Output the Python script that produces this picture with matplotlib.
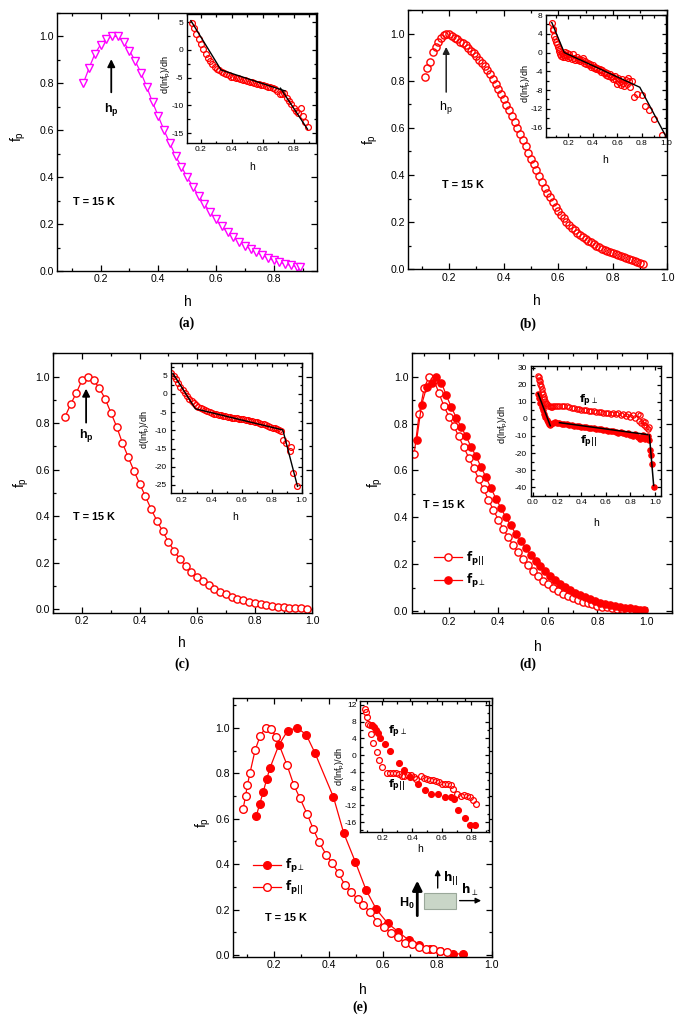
import matplotlib
matplotlib.use('Agg')
import matplotlib.pyplot as plt
from matplotlib.ticker import MultipleLocator, AutoMinorLocator, FormatStrFormatter
from matplotlib.patches import Rectangle
from matplotlib.font_manager import FontProperties

plt.rcParams['font.family'] = ['Liberation Sans', 'DejaVu Sans']
plt.rcParams['mathtext.fontset'] = 'custom'
plt.rcParams['mathtext.rm'] = 'Liberation Sans'
plt.rcParams['mathtext.it'] = 'Liberation Sans:italic'
plt.rcParams['mathtext.bf'] = 'Liberation Sans:bold'

RED = '#ff0000'
MAG = '#ff00ff'

# ---------------- panel (a) ----------------
h_a = [0.14, 0.16, 0.18, 0.20, 0.22, 0.24, 0.26, 0.28, 0.30, 0.32, 0.34, 0.36, 0.38, 0.40,
       0.42, 0.44, 0.46, 0.48, 0.50, 0.52, 0.54, 0.56, 0.58, 0.60, 0.62, 0.64, 0.66, 0.68,
       0.70, 0.72, 0.74, 0.76, 0.78, 0.80, 0.82, 0.84, 0.86, 0.88, 0.89]
f_a = [0.80, 0.865, 0.925, 0.965, 0.99, 1.0, 1.0, 0.975, 0.94, 0.895, 0.845, 0.785, 0.72, 0.66,
       0.60, 0.545, 0.49, 0.445, 0.40, 0.36, 0.32, 0.285, 0.25, 0.22, 0.19, 0.165, 0.145, 0.125,
       0.108, 0.093, 0.08, 0.067, 0.055, 0.045, 0.037, 0.03, 0.024, 0.019, 0.017]
hi_a = [0.140, 0.155, 0.170, 0.185, 0.200, 0.215, 0.230, 0.245, 0.260, 0.275, 0.290, 0.305,
        0.320, 0.335, 0.350, 0.365, 0.380, 0.395, 0.410, 0.425, 0.440, 0.455, 0.470, 0.485,
        0.500, 0.515, 0.530, 0.545, 0.560, 0.575, 0.590, 0.605, 0.620, 0.635, 0.650, 0.665,
        0.680, 0.695, 0.710, 0.725, 0.740, 0.755, 0.770, 0.785, 0.800, 0.815, 0.830, 0.845,
        0.860, 0.875, 0.890]
di_a = [4.9, 4.0, 2.9, 1.9, 1.0, 0.1, -0.7, -1.4, -2.0, -2.5, -3.0, -3.4, -3.7, -4.0, -4.2,
        -4.4, -4.6, -4.8, -4.9, -5.0, -5.1, -5.3, -5.4, -5.5, -5.6, -5.7, -5.8, -6.0, -6.1,
        -6.2, -6.3, -6.4, -6.5, -6.6, -6.7, -6.8, -7.0, -7.4, -7.9, -8.0, -7.7, -8.6, -9.2,
        -9.8, -10.4, -11.0, -11.4, -10.5, -11.9, -13.0, -14.0]
fit_a1_h = [0.135, 0.33, 0.745]
fit_a1_v = [5.3, -3.6, -7.4]
fit_a2_h = [0.715, 0.89]
fit_a2_v = [-6.9, -14.3]

# ---------------- panel (b) ----------------
h_b = [0.11, 0.12, 0.13, 0.14, 0.15, 0.16, 0.17, 0.18, 0.19, 0.20, 0.21, 0.22, 0.23, 0.24,
       0.25, 0.26, 0.27, 0.28, 0.29, 0.30, 0.31, 0.32, 0.33, 0.34, 0.35, 0.36, 0.37, 0.38,
       0.39, 0.40, 0.41, 0.42, 0.43, 0.44, 0.45, 0.46, 0.47, 0.48, 0.49, 0.50, 0.51, 0.52,
       0.53, 0.54, 0.55, 0.56, 0.57, 0.58, 0.59, 0.60, 0.61, 0.62, 0.63, 0.64, 0.65, 0.66,
       0.67, 0.68, 0.69, 0.70, 0.71, 0.72, 0.73, 0.74, 0.75, 0.76, 0.77, 0.78, 0.79, 0.80,
       0.81, 0.82, 0.83, 0.84, 0.85, 0.86, 0.87, 0.88, 0.89, 0.90, 0.91]
f_b = [0.815, 0.855, 0.88, 0.92, 0.945, 0.965, 0.98, 0.993, 1.0, 0.998, 0.99, 0.982, 0.975,
       0.966, 0.958, 0.95, 0.94, 0.928, 0.917, 0.903, 0.89, 0.877, 0.864, 0.846, 0.827, 0.808,
       0.787, 0.766, 0.745, 0.722, 0.698, 0.675, 0.651, 0.626, 0.60, 0.575, 0.548, 0.522,
       0.495, 0.47, 0.445, 0.42, 0.395, 0.37, 0.347, 0.325, 0.305, 0.285, 0.266, 0.248, 0.232,
       0.216, 0.202, 0.189, 0.177, 0.166, 0.156, 0.146, 0.137, 0.129, 0.121, 0.114, 0.107,
       0.10, 0.094, 0.088, 0.083, 0.078, 0.073, 0.068, 0.064, 0.06, 0.056, 0.052, 0.048,
       0.045, 0.041, 0.037, 0.033, 0.028, 0.022]
hi_b = [0.067, 0.074, 0.081, 0.088, 0.095, 0.102, 0.109, 0.116, 0.123, 0.130, 0.137, 0.144,
        0.151, 0.158, 0.165, 0.172, 0.179, 0.186, 0.193, 0.200, 0.210, 0.220, 0.230, 0.240,
        0.250, 0.260, 0.270, 0.280, 0.290, 0.300, 0.310, 0.320, 0.330, 0.340, 0.350, 0.360,
        0.370, 0.380, 0.390, 0.400, 0.410, 0.420, 0.430, 0.440, 0.450, 0.460, 0.470, 0.480,
        0.490, 0.500, 0.510, 0.520, 0.530, 0.540, 0.550, 0.560, 0.570, 0.580, 0.590, 0.600,
        0.610, 0.620, 0.630, 0.640, 0.650, 0.660, 0.670, 0.680, 0.690, 0.700, 0.710, 0.720,
        0.740, 0.760, 0.800, 0.830, 0.860, 0.900, 0.970]
di_b = [6.2, 4.8, 5.0, 3.6, 2.9, 2.2, 1.9, 1.1, 0.7, 0.3, -0.4, -0.8, -0.2, -0.9, -0.5, -1.0,
        0.1, -0.6, -0.2, -1.1, -0.4, -0.9, -1.3, -0.3, -1.1, -1.5, -1.0, -1.6, -1.3, -1.9,
        -1.5, -1.1, -2.2, -1.9, -2.5, -2.2, -2.7, -2.4, -3.0, -2.7, -3.3, -3.0, -3.6, -3.2,
        -3.8, -3.5, -4.1, -3.8, -4.4, -4.1, -4.7, -4.3, -5.0, -4.6, -5.3, -4.9, -5.6, -5.1,
        -5.9, -6.6, -5.4, -6.2, -7.0, -5.6, -6.4, -7.2, -5.8, -6.7, -5.4, -6.1, -7.3, -6.0,
        -9.4, -8.8, -9.0, -11.5, -12.2, -14.2, -17.6]
fit_b_h = [0.067, 0.169, 0.786, 1.0]
fit_b_v = [6.4, 0.0, -7.4, -17.9]

# ---------------- panel (c) ----------------
h_c = [0.14, 0.16, 0.18, 0.20, 0.22, 0.24, 0.26, 0.28, 0.30, 0.32, 0.34, 0.36, 0.38, 0.40,
       0.42, 0.44, 0.46, 0.48, 0.50, 0.52, 0.54, 0.56, 0.58, 0.60, 0.62, 0.64, 0.66, 0.68,
       0.70, 0.72, 0.74, 0.76, 0.78, 0.80, 0.82, 0.84, 0.86, 0.88, 0.90, 0.92, 0.94, 0.96, 0.98]
f_c = [0.825, 0.88, 0.93, 0.985, 1.0, 0.985, 0.95, 0.905, 0.845, 0.785, 0.715, 0.655, 0.595,
       0.54, 0.485, 0.43, 0.38, 0.335, 0.29, 0.25, 0.215, 0.185, 0.16, 0.14, 0.12, 0.103,
       0.088, 0.075, 0.064, 0.054, 0.046, 0.038, 0.032, 0.026, 0.021, 0.017, 0.014, 0.011,
       0.008, 0.006, 0.005, 0.004, 0.003]
hi_c = [0.130, 0.145, 0.160, 0.175, 0.190, 0.205, 0.220, 0.235, 0.250, 0.265, 0.280, 0.295,
        0.310, 0.325, 0.340, 0.355, 0.370, 0.385, 0.400, 0.415, 0.430, 0.445, 0.460, 0.475,
        0.490, 0.505, 0.520, 0.535, 0.550, 0.565, 0.580, 0.595, 0.610, 0.625, 0.640, 0.655,
        0.670, 0.685, 0.700, 0.715, 0.730, 0.745, 0.760, 0.775, 0.790, 0.805, 0.820, 0.835,
        0.850, 0.865, 0.874, 0.897, 0.926, 0.919, 0.940, 0.970]
di_c = [5.6, 5.0, 4.0, 3.0, 2.0, 1.1, 0.2, -0.6, -1.3, -2.0, -2.6, -3.1, -3.5, -3.9, -4.2,
        -4.5, -4.8, -5.0, -5.2, -5.4, -5.6, -5.8, -5.9, -6.0, -6.2, -6.3, -6.4, -6.5, -6.6,
        -6.7, -6.8, -6.9, -7.0, -7.1, -7.2, -7.4, -7.5, -7.6, -7.8, -8.0, -8.2, -8.4, -8.6,
        -8.8, -9.0, -9.3, -9.4, -9.6, -9.9, -10.3, -12.6, -13.5, -14.5, -15.8, -21.8, -25.4]
fit_c_h = [0.14, 0.29, 0.874, 0.972]
fit_c_v = [5.6, -4.1, -9.9, -25.4]

# ---------------- panel (d) ----------------
h_d_par = [0.06, 0.08, 0.10, 0.12, 0.14, 0.16, 0.18, 0.20, 0.22, 0.24, 0.26, 0.28, 0.30, 0.32,
           0.34, 0.36, 0.38, 0.40, 0.42, 0.44, 0.46, 0.48, 0.50, 0.52, 0.54, 0.56, 0.58, 0.60,
           0.62, 0.64, 0.66, 0.68, 0.70, 0.72, 0.74, 0.76, 0.78, 0.80, 0.82, 0.84, 0.86, 0.88,
           0.90, 0.92, 0.94, 0.96]
f_d_par = [0.67, 0.84, 0.95, 1.0, 0.985, 0.93, 0.875, 0.83, 0.79, 0.745, 0.70, 0.655, 0.61,
           0.565, 0.52, 0.475, 0.43, 0.39, 0.35, 0.315, 0.28, 0.25, 0.22, 0.195, 0.17, 0.15,
           0.13, 0.113, 0.098, 0.085, 0.073, 0.063, 0.054, 0.046, 0.039, 0.033, 0.028, 0.023,
           0.019, 0.015, 0.012, 0.009, 0.007, 0.005, 0.004, 0.003]
h_d_perp = [0.07, 0.09, 0.11, 0.13, 0.15, 0.17, 0.19, 0.21, 0.23, 0.25, 0.27, 0.29, 0.31, 0.33,
            0.35, 0.37, 0.39, 0.41, 0.43, 0.45, 0.47, 0.49, 0.51, 0.53, 0.55, 0.57, 0.59, 0.61,
            0.63, 0.65, 0.67, 0.69, 0.71, 0.73, 0.75, 0.77, 0.79, 0.81, 0.83, 0.85, 0.87, 0.89,
            0.91, 0.93, 0.95, 0.97, 0.99]
f_d_perp = [0.73, 0.88, 0.955, 0.975, 1.0, 0.975, 0.92, 0.87, 0.825, 0.785, 0.745, 0.70, 0.66,
            0.615, 0.57, 0.525, 0.48, 0.44, 0.40, 0.365, 0.33, 0.30, 0.27, 0.24, 0.215, 0.19,
            0.17, 0.15, 0.132, 0.116, 0.102, 0.089, 0.077, 0.067, 0.058, 0.05, 0.043, 0.036,
            0.031, 0.026, 0.021, 0.017, 0.014, 0.011, 0.008, 0.006, 0.004]
hi_d_o = [0.045, 0.05, 0.055, 0.06, 0.065, 0.07, 0.075, 0.08, 0.085, 0.09, 0.095, 0.10, 0.11,
          0.12, 0.13, 0.14, 0.15, 0.16, 0.17, 0.18, 0.20, 0.22, 0.24, 0.26, 0.28, 0.30, 0.32,
          0.34, 0.36, 0.38, 0.40, 0.42, 0.44, 0.46, 0.48, 0.50, 0.52, 0.54, 0.56, 0.58, 0.60,
          0.62, 0.64, 0.66, 0.68, 0.70, 0.72, 0.74, 0.76, 0.78, 0.80, 0.82, 0.84, 0.86, 0.87,
          0.88, 0.89, 0.90, 0.91, 0.92, 0.93, 0.94, 0.95]
di_d_o = [25, 24.5, 23, 22, 20.5, 19, 17.5, 16, 14.5, 13, 11.5, 10.5, 9.5, 8.5, 7.8, 7.3, 7.0,
          7.2, 7.5, 7.4, 7.6, 7.8, 7.7, 7.5, 7.3, 7.0, 6.6, 6.4, 6.0, 5.8, 5.5, 5.2, 5.0, 4.8,
          4.6, 4.5, 4.2, 4.0, 3.8, 3.7, 3.5, 3.3, 3.0, 3.5, 2.8, 3.2, 2.5, 3.0, 1.5, 2.8, 1.0,
          2.0, 0.5, 3.0, -1.0, 2.0, -2.5, -1.0, -3.5, -2.0, -4.5, -6.0, -5.0]
hi_d_f = [0.045, 0.055, 0.065, 0.075, 0.085, 0.095, 0.105, 0.115, 0.125, 0.135, 0.145, 0.155,
          0.165, 0.18, 0.20, 0.22, 0.24, 0.26, 0.28, 0.30, 0.32, 0.34, 0.36, 0.38, 0.40, 0.42,
          0.44, 0.46, 0.48, 0.50, 0.52, 0.54, 0.56, 0.58, 0.60, 0.62, 0.64, 0.66, 0.68, 0.70,
          0.72, 0.74, 0.76, 0.78, 0.80, 0.82, 0.84, 0.86, 0.88, 0.90, 0.92, 0.94, 0.955, 0.96,
          0.965, 0.975, 0.995]
di_d_f = [14.5, 12, 9.5, 7, 5, 3, 1, -0.5, -1.8, -2.8, -3.5, -3.0, -2.5, -2.0, -2.2, -2.5,
          -2.8, -3.0, -3.2, -3.4, -3.6, -3.9, -4.0, -4.3, -4.5, -4.7, -4.9, -5.1, -5.3, -5.6,
          -5.8, -6.0, -6.2, -6.5, -6.7, -7.0, -7.3, -7.0, -7.8, -8.0, -7.5, -8.5, -9.0, -8.2,
          -9.5, -10.0, -8.8, -10.5, -11.5, -9.5, -12.0, -10.0, -12.5, -18, -21, -26.5, -40]
fit_d1_h = [0.045, 0.145]
fit_d1_v = [15, -4]
fit_d2_h = [0.22, 0.94]
fit_d2_v = [-2.2, -9.2]
fit_d3_h = [0.955, 0.99]
fit_d3_v = [-9.5, -39]

# ---------------- panel (e) ----------------
h_e_perp = [0.134, 0.147, 0.16, 0.173, 0.185, 0.218, 0.25, 0.285, 0.318, 0.35, 0.418, 0.456,
            0.499, 0.538, 0.576, 0.618, 0.656, 0.695, 0.734, 0.773, 0.81, 0.856, 0.895]
f_e_perp = [0.61, 0.665, 0.718, 0.775, 0.824, 0.926, 0.988, 1.0, 0.97, 0.89, 0.696, 0.537,
            0.409, 0.287, 0.201, 0.14, 0.103, 0.066, 0.044, 0.029, 0.019, 0.007, 0.004]
h_e_par = [0.086, 0.095, 0.102, 0.111, 0.13, 0.149, 0.169, 0.188, 0.207, 0.247, 0.272, 0.295,
           0.321, 0.344, 0.366, 0.392, 0.414, 0.437, 0.46, 0.482, 0.508, 0.527, 0.553, 0.579,
           0.605, 0.63, 0.656, 0.682, 0.708, 0.734, 0.76, 0.785, 0.81, 0.837]
f_e_par = [0.643, 0.699, 0.75, 0.80, 0.901, 0.966, 1.0, 0.997, 0.96, 0.838, 0.75, 0.69, 0.622,
           0.555, 0.496, 0.441, 0.404, 0.36, 0.309, 0.279, 0.246, 0.22, 0.191, 0.147, 0.125,
           0.099, 0.078, 0.054, 0.047, 0.034, 0.029, 0.025, 0.018, 0.012]
hi_e_par = [0.081, 0.090, 0.099, 0.106, 0.116, 0.121, 0.14, 0.165, 0.18, 0.20, 0.235, 0.25,
            0.27, 0.29, 0.31, 0.33, 0.345, 0.37, 0.39, 0.41, 0.43, 0.46, 0.48, 0.50, 0.52,
            0.54, 0.56, 0.58, 0.60, 0.62, 0.64, 0.66, 0.675, 0.705, 0.73, 0.75, 0.77, 0.79,
            0.81, 0.83]
di_e_par = [10.9, 10.2, 9.2, 7.4, 7.3, 5.0, 2.8, 0.8, -1.2, -2.9, -4.3, -4.3, -4.2, -4.3,
            -4.6, -4.9, -5.0, -4.7, -4.8, -5.3, -5.6, -5.1, -5.5, -5.8, -5.9, -6.0, -6.1,
            -6.4, -6.8, -6.9, -7.0, -7.2, -8.0, -9.4, -9.8, -9.6, -9.7, -10.1, -10.8, -11.7]
hi_e_perp = [0.13, 0.144, 0.16, 0.171, 0.182, 0.216, 0.249, 0.31, 0.344, 0.389, 0.44, 0.485,
             0.53, 0.575, 0.62, 0.665, 0.68, 0.71, 0.755, 0.793, 0.827]
di_e_perp = [7.1, 6.7, 6.0, 5.2, 4.2, 2.6, 1.0, -1.8, -3.6, -5.2, -6.9, -8.3, -9.2, -9.4,
             -9.9, -9.9, -10.6, -13.1, -15.1, -16.8, -16.7]

# ====================================================================
W, H = 685, 1021
fig = plt.figure(figsize=(W / 100, H / 100), dpi=100)

PERP_FP = dict(math_fontfamily='dejavusans')


def box(l, t, r, b):
    return fig.add_axes([l / W, 1 - b / H, (r - l) / W, (b - t) / H])


def style(ax, xlim, ylim, xmaj, ymaj, fs, xfmt='%.1f', yfmt='%.1f', maj=4.0, mnr=2.2):
    ax.set_xlim(xlim)
    ax.set_ylim(ylim)
    ax.xaxis.set_major_locator(MultipleLocator(xmaj))
    ax.yaxis.set_major_locator(MultipleLocator(ymaj))
    ax.xaxis.set_minor_locator(AutoMinorLocator(2))
    ax.yaxis.set_minor_locator(AutoMinorLocator(2))
    ax.xaxis.set_major_formatter(FormatStrFormatter(xfmt))
    ax.yaxis.set_major_formatter(FormatStrFormatter(yfmt))
    ax.tick_params(which='both', direction='in', top=True, right=True,
                   labelsize=fs, width=0.9, pad=2.5)
    ax.tick_params(which='major', length=maj)
    ax.tick_params(which='minor', length=mnr)
    for s in ax.spines.values():
        s.set_linewidth(1.0)


def ftext(x, y, s, **kw):
    kw.setdefault('ha', 'center')
    kw.setdefault('va', 'center')
    fig.text(x / W, 1 - y / H, s, **kw)


FP = r'$\mathrm{f_p}$'
DLN = r'd(lnf$_\mathrm{p}$)/dh'
LBL_PAR = r'$\mathbf{f}_{\mathbf{p||}}$'
LBL_PERP = r'$\mathbf{f}_{\mathbf{p}\perp}$'
MAIN_FS = 7.6
IN_FS = 6.0
LAB_FS = 10
INLAB_FS = 7.5
leg_prop = FontProperties(size=8.5, weight='bold', math_fontfamily='dejavusans')

# ---------- (a) ----------
ax = box(57.3, 13, 317, 271)
style(ax, (0.05, 0.95), (0.0, 1.1), 0.2, 0.2, MAIN_FS)
ax.plot(h_a, f_a, color=MAG, lw=0.9, marker='v', ms=6, mfc='white', mec=MAG, mew=1.0)
ax.annotate('', xy=(0.237, 0.915), xytext=(0.237, 0.75),
            arrowprops=dict(arrowstyle='-|>', color='k', lw=1.3, mutation_scale=11))
ax.text(0.237, 0.69, r'$\mathbf{h_p}$', ha='center', va='center', fontsize=9)
ax.text(0.104, 0.294, 'T = 15 K', fontsize=7.8, fontweight='bold', va='center')
ftext(188, 302, 'h', fontsize=LAB_FS)
ftext(18, 137, FP, fontsize=LAB_FS, rotation=90)
ftext(187, 323, '(a)', fontsize=10, fontweight='bold', family='Liberation Serif')

ai = box(187, 14, 316, 143)
style(ai, (0.11, 0.945), (-16.8, 6.5), 0.2, 5, IN_FS, yfmt='%d', maj=3.0, mnr=1.8)
ai.plot(hi_a, di_a, ls='none', marker='o', ms=4.2, mfc='none', mec=RED, mew=0.9)
ai.plot(fit_a1_h, fit_a1_v, color='k', lw=1.0)
ai.plot(fit_a2_h, fit_a2_v, color='k', lw=1.0)
ftext(252, 167, 'h', fontsize=INLAB_FS)
ftext(166, 75, DLN, fontsize=6.6, rotation=90)

# ---------- (b) ----------
ax = box(408.3, 10, 667.3, 269.3)
style(ax, (0.05, 1.0), (0.0, 1.1), 0.2, 0.2, MAIN_FS)
ax.plot(h_b, f_b, ls='none', marker='o', ms=5.2, mfc='none', mec=RED, mew=1.0)
ax.annotate('', xy=(0.189, 0.955), xytext=(0.189, 0.74),
            arrowprops=dict(arrowstyle='-|>', color='#222222', lw=1.1, mutation_scale=10))
ax.text(0.189, 0.685, r'$\mathrm{h_p}$', ha='center', va='center', fontsize=9)
ax.text(0.173, 0.358, 'T = 15 K', fontsize=7.8, fontweight='bold', va='center')
ftext(537, 301, 'h', fontsize=LAB_FS)
ftext(370, 140, FP, fontsize=LAB_FS, rotation=90)
ftext(528, 324, '(b)', fontsize=10, fontweight='bold', family='Liberation Serif')

bi = box(546, 15, 666, 137)
style(bi, (0.02, 1.0), (-18, 8), 0.2, 4, IN_FS, yfmt='%d', maj=3.0, mnr=1.8)
bi.plot(hi_b, di_b, ls='none', marker='o', ms=4.2, mfc='none', mec=RED, mew=0.9)
bi.plot(fit_b_h, fit_b_v, color='k', lw=1.0)
ftext(605, 160, 'h', fontsize=INLAB_FS)
ftext(526, 84, DLN, fontsize=6.6, rotation=90)

# ---------- (c) ----------
ax = box(53.3, 353.3, 312.3, 612.7)
style(ax, (0.1, 1.0), (-0.015, 1.1), 0.2, 0.2, MAIN_FS)
ax.plot(h_c, f_c, color=RED, lw=0.9, marker='o', ms=5.2, mfc='white', mec=RED, mew=1.0)
ax.annotate('', xy=(0.214, 0.96), xytext=(0.214, 0.79),
            arrowprops=dict(arrowstyle='-|>', color='k', lw=1.3, mutation_scale=11))
ax.text(0.214, 0.745, r'$\mathbf{h_p}$', ha='center', va='center', fontsize=9)
ax.text(0.17, 0.398, 'T = 15 K', fontsize=7.8, fontweight='bold', va='center')
ftext(182, 643, 'h', fontsize=LAB_FS)
ftext(21, 483, FP, fontsize=LAB_FS, rotation=90)
ftext(182, 664, '(c)', fontsize=10, fontweight='bold', family='Liberation Serif')

ci = box(170.7, 363.3, 301.7, 493.3)
style(ci, (0.125, 1.0), (-27.3, 8.4), 0.2, 5, IN_FS, yfmt='%d', maj=3.0, mnr=1.8)
ci.plot(hi_c, di_c, ls='none', marker='o', ms=4.2, mfc='none', mec=RED, mew=0.9)
ci.plot(fit_c_h, fit_c_v, color='k', lw=1.0)
ftext(235, 517, 'h', fontsize=INLAB_FS)
ftext(145, 430, DLN, fontsize=6.6, rotation=90)

# ---------- (d) ----------
ax = box(411.7, 353.3, 671.7, 613.3)
style(ax, (0.05, 1.1), (-0.01, 1.1), 0.2, 0.2, MAIN_FS)
l_par, = ax.plot(h_d_par, f_d_par, color=RED, lw=0.9, marker='o', ms=5.2, mfc='white',
                 mec=RED, mew=1.0)
l_perp, = ax.plot(h_d_perp, f_d_perp, color=RED, lw=0.9, marker='o', ms=5.2, mfc=RED,
                  mec=RED, mew=1.0)
ax.legend([l_par, l_perp], [LBL_PAR, LBL_PERP],
          loc='upper left', bbox_to_anchor=(0.085, 0.245), frameon=False, prop=leg_prop,
          handlelength=2.4, handletextpad=0.35, labelspacing=0.35, borderpad=0,
          borderaxespad=0)
ax.text(0.097, 0.454, 'T = 15 K', fontsize=7.8, fontweight='bold', va='center')
ftext(538, 647, 'h', fontsize=LAB_FS)
ftext(375, 483, FP, fontsize=LAB_FS, rotation=90)
ftext(528, 664, '(d)', fontsize=10, fontweight='bold', family='Liberation Serif')

di = box(530.7, 366, 661, 495.7)
style(di, (-0.015, 1.05), (-45, 31), 0.2, 10, IN_FS, yfmt='%d', maj=3.0, mnr=1.8)
di.plot(hi_d_o, di_d_o, ls='none', marker='o', ms=3.8, mfc='none', mec=RED, mew=0.9)
di.plot(hi_d_f, di_d_f, ls='none', marker='o', ms=3.8, mfc=RED, mec=RED, mew=0.9)
di.plot(fit_d1_h, fit_d1_v, color='k', lw=1.1)
di.plot(fit_d2_h, fit_d2_v, color='k', lw=1.1)
di.plot(fit_d3_h, fit_d3_v, color='k', lw=1.1)
di.text(0.455, 10.6, LBL_PERP, fontsize=8, ha='center', va='center', **PERP_FP)
di.text(0.455, -12.8, LBL_PAR, fontsize=8, ha='center', va='center', **PERP_FP)
ftext(596, 523, 'h', fontsize=INLAB_FS)
ftext(503, 425, DLN, fontsize=6.6, rotation=90)

# ---------- (e) ----------
ax = box(233.3, 698.3, 491.7, 956.7)
style(ax, (0.05, 1.0), (-0.007, 1.13), 0.2, 0.2, MAIN_FS)
e_perp, = ax.plot(h_e_perp, f_e_perp, color=RED, lw=0.9, marker='o', ms=5.5, mfc=RED,
                  mec=RED, mew=1.0)
e_par, = ax.plot(h_e_par, f_e_par, color=RED, lw=0.9, marker='o', ms=5.5, mfc='white',
                 mec=RED, mew=1.0)
ax.legend([e_perp, e_par], [LBL_PERP, LBL_PAR],
          loc='upper left', bbox_to_anchor=(0.075, 0.385), frameon=False, prop=leg_prop,
          handlelength=2.4, handletextpad=0.35, labelspacing=0.35, borderpad=0,
          borderaxespad=0)
ax.text(0.166, 0.162, 'T = 15 K', fontsize=7.8, fontweight='bold', va='center')
# field geometry sketch
ax.annotate('', xy=(0.712, 0.305), xytext=(0.712, 0.148), xycoords='axes fraction',
            arrowprops=dict(arrowstyle='-|>', color='k', lw=2.0, mutation_scale=14))
ax.text(0.672, 0.207, r'$\mathbf{H_0}$', transform=ax.transAxes, fontsize=9,
        ha='center', va='center')
ax.add_patch(Rectangle((0.738, 0.183), 0.123, 0.062, transform=ax.transAxes,
                       facecolor='#c9d6c7', edgecolor='#9aa89a', lw=0.8))
ax.annotate('', xy=(0.791, 0.348), xytext=(0.791, 0.255), xycoords='axes fraction',
            arrowprops=dict(arrowstyle='-|>', color='k', lw=1.0, mutation_scale=8))
ax.text(0.81, 0.3, r'$\mathbf{h}_{\mathbf{||}}$', transform=ax.transAxes, fontsize=8.5,
        ha='left', va='center', **PERP_FP)
ax.annotate('', xy=(0.97, 0.217), xytext=(0.865, 0.217), xycoords='axes fraction',
            arrowprops=dict(arrowstyle='-|>', color='k', lw=1.0, mutation_scale=8))
ax.text(0.88, 0.258, r'$\mathbf{h}_{\perp}$', transform=ax.transAxes, fontsize=8.5,
        ha='left', va='center', **PERP_FP)
ftext(363, 990, 'h', fontsize=LAB_FS)
ftext(203, 823, FP, fontsize=LAB_FS, rotation=90)
ftext(360, 1007, '(e)', fontsize=10, fontweight='bold', family='Liberation Serif')

ei = box(360, 700.7, 489.3, 831.7)
style(ei, (0.05, 0.92), (-18.3, 13), 0.2, 4, IN_FS, yfmt='%d', maj=3.0, mnr=1.8)
ei.plot(hi_e_par, di_e_par, ls='none', marker='o', ms=4.2, mfc='none', mec=RED, mew=0.9)
ei.plot(hi_e_perp, di_e_perp, ls='none', marker='o', ms=4.2, mfc=RED, mec=RED, mew=0.9)
ei.text(0.24, 5.6, LBL_PERP, fontsize=8, ha='left', va='center', **PERP_FP)
ei.text(0.24, -7.1, LBL_PAR, fontsize=8, ha='left', va='center', **PERP_FP)
ftext(420, 849, 'h', fontsize=INLAB_FS)
ftext(340, 767, DLN, fontsize=6.6, rotation=90)

fig.savefig('out.png', dpi=100)
